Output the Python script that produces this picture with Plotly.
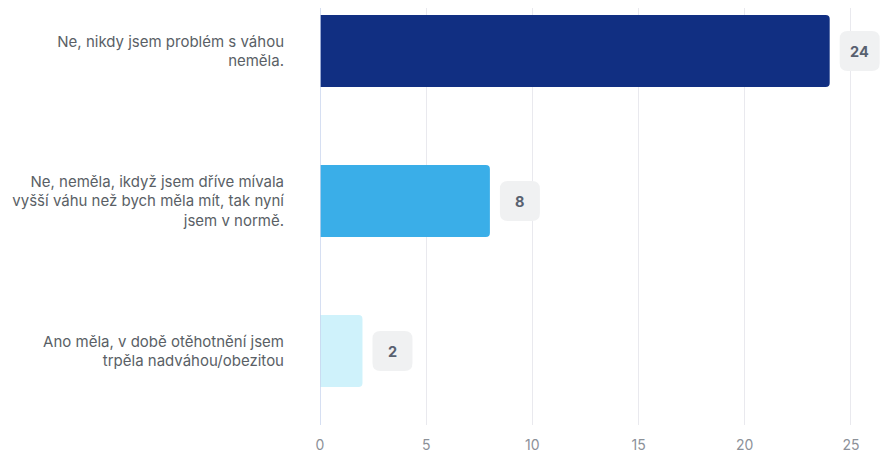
import plotly.graph_objects as go

categories = [
    "Ne, nikdy jsem problém s váhou<br>neměla.",
    "Ne, neměla, ikdyž jsem dříve mívala<br>vyšší váhu než bych měla mít, tak nyní<br>jsem v normě.",
    "Ano měla, v době otěhotnění jsem<br>trpěla nadváhou/obezitou",
]
values = [24, 8, 2]
colors = ["#112f82", "#3aaee8", "#cff2fb"]
x_ticks = [0, 5, 10, 15, 20, 25]

positions = list(range(len(categories)))

fig = go.Figure()
fig.add_trace(go.Bar(
    x=values, y=positions, orientation="h",
    marker=dict(color=colors, line=dict(width=0), cornerradius=4),
    width=0.48, hoverinfo="skip",
))

shapes = []
annotations = []
r = 8
for i, v in enumerate(values):
    x0, x1, y0, y1 = 10, 50, -20, 20
    path = (f"M {x0+r},{y0} L {x1-r},{y0} Q {x1},{y0} {x1},{y0+r} "
            f"L {x1},{y1-r} Q {x1},{y1} {x1-r},{y1} L {x0+r},{y1} "
            f"Q {x0},{y1} {x0},{y1-r} L {x0},{y0+r} Q {x0},{y0} {x0+r},{y0} Z")
    shapes.append(dict(
        type="path", path=path, xref="x", yref="y",
        xsizemode="pixel", ysizemode="pixel", xanchor=v, yanchor=i,
        fillcolor="#f0f1f2", line=dict(width=0), layer="above",
    ))
    annotations.append(dict(
        x=v, y=i, xref="x", yref="y", text=f"<b>{v}</b>", showarrow=False,
        xshift=30, font=dict(family="Inter", size=14.5, color="#586170"),
    ))

fig.update_layout(
    width=890, height=452,
    margin=dict(l=312, r=8, t=0, b=35, autoexpand=False),
    paper_bgcolor="white", plot_bgcolor="white",
    showlegend=False,
    shapes=shapes, annotations=annotations,
    font=dict(family="Inter", size=15, color="#5a5f66"),
    xaxis=dict(
        range=[0, 26.84], tickvals=x_ticks, showgrid=True,
        gridcolor="#e9e9ee", gridwidth=1, zeroline=False,
        showline=False, tickfont=dict(size=14, color="#8c9199"),
        ticks="", ticklabelstandoff=10, fixedrange=True, automargin=False,
    ),
    yaxis=dict(
        range=[2.493, -0.287], tickvals=positions, ticktext=categories,
        showgrid=False, zeroline=False, showline=False, ticks="",
        ticklabelstandoff=35, tickfont=dict(size=15, color="#5a5f66"),
        fixedrange=True, automargin=False,
    ),
)
fig.add_shape(type="line", xref="x", yref="paper", x0=0, x1=0, y0=0, y1=1,
              line=dict(color="#c8d4ee", width=1.5), layer="above")

fig.write_html("out.html")
